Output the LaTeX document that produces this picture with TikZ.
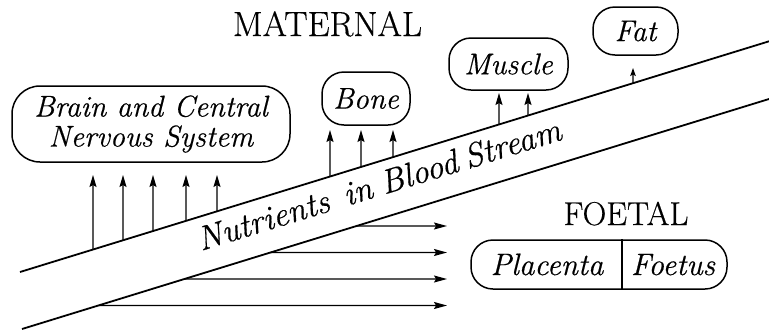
\documentclass[tikz,border=0pt]{standalone}
\usepackage{fontspec}
\setmainfont{Latin Modern Roman}[FakeBold=0.5]
\usetikzlibrary{arrows.meta}
\begin{document}
\begin{tikzpicture}[x=1pt,y=-1pt,
  bandline/.style={line width=1.8pt},
  uparrow/.style={line width=1.3pt,-{Stealth[length=12pt,width=7pt,inset=2pt]}},
  smallarrow/.style={line width=1.3pt,-{Stealth[length=8pt,width=5.5pt,inset=1.5pt]}},
  rarrow/.style={line width=1.3pt,-{Stealth[length=13pt,width=7pt,inset=2pt]}},
  tissue/.style={draw,line width=1.5pt,rounded corners=22pt,inner sep=0pt,
    font=\fontsize{30}{30}\selectfont\itshape},
  itext/.style={inner sep=0pt,font=\fontsize{31}{30}\selectfont\itshape},
  heading/.style={inner sep=0pt}
]
\useasboundingbox (0,0) rectangle (769,333);

% blood stream band
\coordinate (uL) at (20,272);
\coordinate (uR) at (769,41.3);
\coordinate (lL) at (22,329);
\coordinate (lR) at (769,99);
\draw[bandline] (uL) -- (uR);
\draw[bandline] (lL) -- (lR);
\node[rotate=17.1,anchor=base west,inner sep=0pt,
  font=\fontsize{34}{34}\selectfont\itshape] (nutr) at (201,251)
  {Nutrients\hspace{16pt}in\hspace{10pt}Blood\hspace{8pt}Stream};

% headings
\node[heading,anchor=base,font=\fontsize{35}{35}\selectfont] (maternal) at (327.5,36) {MATERNAL};
\node[heading,anchor=base,font=\fontsize{33}{33}\selectfont] (foetal) at (626,225) {FOETAL};

% maternal tissues
\node[tissue,rounded corners=28pt,minimum width=278pt,minimum height=76pt,align=center]
  (brain) at (151,124) {Brain and Central\\Nervous System};
\node[tissue,minimum width=88pt,minimum height=53pt] (bone) at (366,98.5) {Bone};
\node[tissue,minimum width=119pt,minimum height=52pt] (muscle) at (508.5,64) {Muscle};
\node[tissue,minimum width=85pt,minimum height=48pt] (fat) at (635.5,31) {Fat};

% foetal box
\node[tissue,minimum width=256pt,minimum height=49pt] (pf) at (599,264.5) {};
\node[itext,anchor=base] (placenta) at (547,275) {Placenta};
\node[itext,anchor=base] (foetus) at (673,275) {Foetus};
\coordinate (divx) at (622,0);
\draw[line width=1.2pt] (pf.north -| divx) -- (pf.south -| divx);

% arrows to brain
\foreach \i/\x in {1/93,2/123,3/153,4/186,5/217}{
  \coordinate (bs\i) at (intersection of uL--uR and \x,0--\x,1);
  \coordinate (bt\i) at (\x,175);
  \draw[uparrow] (bs\i) -- (bt\i);
}
% arrows to bone
\foreach \i/\x in {1/330,2/361,3/393}{
  \coordinate (os\i) at (intersection of uL--uR and \x,0--\x,1);
  \coordinate (ot\i) at (\x,130);
  \draw[uparrow] (os\i) -- (ot\i);
}
% arrows to muscle
\foreach \i/\x in {1/499,2/528}{
  \coordinate (ms\i) at (intersection of uL--uR and \x,0--\x,1);
  \coordinate (mt\i) at (\x,93);
  \draw[uparrow] (ms\i) -- (mt\i);
}
% arrow to fat
\coordinate (fs1) at (intersection of uL--uR and 633,0--633,1);
\coordinate (ft1) at (633,68);
\draw[smallarrow] (fs1) -- (ft1);

% arrows to foetal side
\foreach \i/\y in {1/226,2/252.5,3/279,4/305.5}{
  \coordinate (hs\i) at (intersection of lL--lR and 0,\y--1,\y);
  \coordinate (he\i) at (447,\y);
  \draw[rarrow] (hs\i) -- (he\i);
}
\end{tikzpicture}
\end{document}
